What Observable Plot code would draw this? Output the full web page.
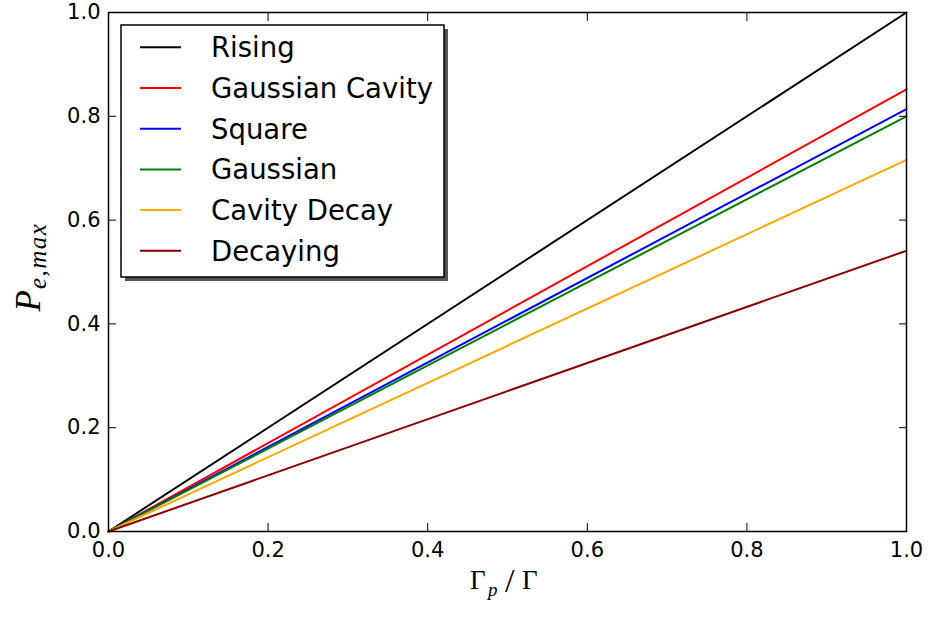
<!DOCTYPE html>
<html>
<head>
<meta charset="utf-8">
<script src="https://cdn.jsdelivr.net/npm/d3@7"></script>
<script src="https://cdn.jsdelivr.net/npm/@observablehq/plot@0.6"></script>
<style>
  html, body { margin: 0; padding: 0; background: white; }
  #chart { width: 928px; height: 619px; }
</style>
</head>
<body>
<div id="chart"></div>
<script>
// ---- data ----
const seriesNames = ["Rising", "Gaussian Cavity", "Square", "Gaussian", "Cavity Decay", "Decaying"];
const seriesColors = ["black", "red", "blue", "green", "orange", "darkred"];
const xValues = [0, 1];               // Γp/Γ
const risingY = [0, 1.000];
const gaussianCavityY = [0, 0.852];
const squareY = [0, 0.814];
const gaussianY = [0, 0.800];
const cavityDecayY = [0, 0.716];
const decayingY = [0, 0.541];
const xTicks = [0, 0.2, 0.4, 0.6, 0.8, 1.0];
const yTicks = [0, 0.2, 0.4, 0.6, 0.8, 1.0];

const seriesValues = [risingY, gaussianCavityY, squareY, gaussianY, cavityDecayY, decayingY];
const data = seriesNames.flatMap((name, i) =>
  xValues.map((x, j) => ({series: name, x, y: seriesValues[i][j]}))
);

const fmt = d3.format(".1f");

const plot = Plot.plot({
  width: 928,
  height: 619,
  marginLeft: 108,
  marginRight: 22,
  marginTop: 12,
  marginBottom: 88,
  style: {fontFamily: "DejaVu Sans", fontSize: "21px", background: "white", color: "black", overflow: "visible"},
  x: {domain: [0, 1], label: null},
  y: {domain: [0, 1], label: null},
  color: {domain: seriesNames, range: seriesColors},
  marks: [
    Plot.line(data, {x: "x", y: "y", z: "series", stroke: "series", strokeWidth: 2}),
    Plot.axisX(xTicks, {anchor: "bottom", tickSize: -8, tickPadding: 19, tickFormat: fmt, label: null, stroke: "black"}),
    Plot.axisX(xTicks, {anchor: "top", tickSize: -8, tickFormat: () => "", label: null, stroke: "black"}),
    Plot.axisY(yTicks, {anchor: "left", tickSize: -8, tickPadding: 16, tickFormat: fmt, label: null, stroke: "black"}),
    Plot.axisY(yTicks, {anchor: "right", tickSize: -8, tickFormat: () => "", label: null, stroke: "black"}),
    Plot.frame({stroke: "black", strokeWidth: 1.5})
  ]
});

document.getElementById("chart").appendChild(plot);

const svg = d3.select(plot);

// ---- axis labels (math style) ----
const yl = svg.append("text")
  .attr("transform", "translate(40,267) rotate(-90)")
  .attr("text-anchor", "middle")
  .attr("font-family", "Liberation Serif")
  .attr("font-style", "italic")
  .attr("font-weight", "normal")
  .attr("font-size", 35)
  .attr("fill", "black");
yl.append("tspan").text("P");
yl.append("tspan").attr("font-size", 25).attr("dy", 6).attr("dx", 1).attr("letter-spacing", 1.5).text("e,max");

const xl = svg.append("text")
  .attr("y", 589)
  .attr("text-anchor", "start")
  .attr("font-family", "Liberation Serif")
  .attr("font-weight", "normal")
  .attr("font-size", 27)
  .attr("fill", "black");
xl.append("tspan").attr("x", 470).text("Γ");
xl.append("tspan").attr("x", 488).attr("font-style", "italic").attr("font-size", 19).attr("dy", 7).text("p");
xl.append("tspan").attr("x", 505).attr("dy", -4).attr("font-size", 34).text("/");
xl.append("tspan").attr("x", 522).attr("dy", -3).text("Γ");

// ---- legend ----
const lx = 121, ly = 25, lw = 323, lh = 252;
const leg = svg.append("g").attr("text-anchor", "start");
leg.append("rect").attr("x", lx + 4).attr("y", ly + 4).attr("width", lw).attr("height", lh).attr("fill", "#555");
leg.append("rect").attr("x", lx).attr("y", ly).attr("width", lw).attr("height", lh)
  .attr("fill", "white").attr("stroke", "black").attr("stroke-width", 1.5);
seriesNames.forEach((name, i) => {
  const yy = 47.3 + i * 40.7;
  leg.append("line").attr("x1", 140).attr("x2", 181).attr("y1", yy).attr("y2", yy)
    .attr("stroke", seriesColors[i]).attr("stroke-width", 2);
  leg.append("text").attr("x", 211).attr("y", yy).attr("dy", "0.36em")
    .attr("text-anchor", "start")
    .attr("font-family", "DejaVu Sans").attr("font-size", 27.5).attr("fill", "black").text(name);
});
</script>
</body>
</html>
